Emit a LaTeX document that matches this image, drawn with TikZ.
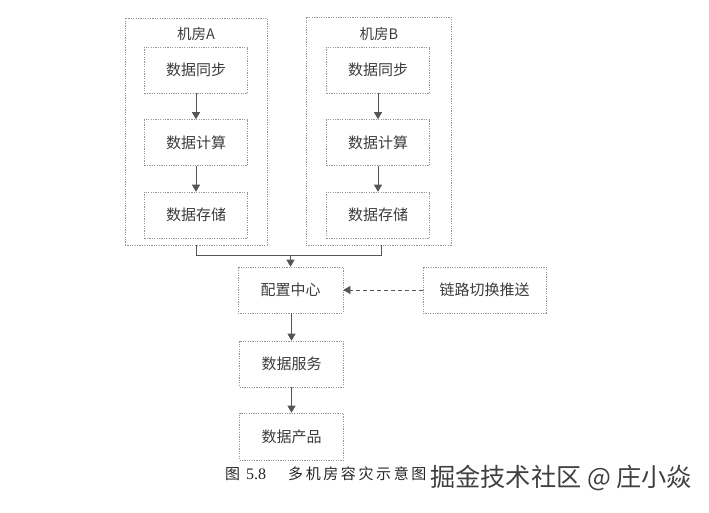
\documentclass[tikz,border=0pt]{standalone}
\usepackage{fontspec}
\setmainfont{Noto Sans CJK SC}
\newfontfamily\serifnum{Liberation Serif}
\usetikzlibrary{arrows.meta}
\definecolor{boxline}{RGB}{150,150,150}
\definecolor{txt}{RGB}{60,60,60}
\definecolor{arr}{RGB}{85,85,85}
\tikzset{
  dotbox/.style={draw=boxline, line width=0.6pt, dash pattern=on 1.2pt off 1.2pt, rectangle, inner sep=0pt, text=txt, font=\fontsize{15}{17}\selectfont},
  inbox/.style={dotbox, minimum width=103pt, minimum height=46pt},
  link/.style={draw=arr, line width=0.6pt, -{Triangle[width=8pt,length=7pt]}},
  dlink/.style={link, dash pattern=on 4pt off 3pt},
}
\begin{document}
\begin{tikzpicture}[x=1pt,y=-1pt]
\useasboundingbox (0,0) rectangle (709,512);
% rooms
\node[dotbox, minimum width=142pt, minimum height=227pt] (roomA) at (196,131.5) {};
\node[dotbox, minimum width=145pt, minimum height=228pt] (roomB) at (378.5,131) {};
\node[text=txt, font=\fontsize{14.5}{16}\selectfont] (titleA) at (196,34) {机房A};
\node[text=txt, font=\fontsize{14.5}{16}\selectfont] (titleB) at (379,34) {机房B};
% room A
\node[inbox] (a1) at (196,70) {数据同步};
\node[inbox] (a2) at (196,142.5) {数据计算};
\node[inbox] (a3) at (196,215) {数据存储};
% room B
\node[inbox] (b1) at (378,70) {数据同步};
\node[inbox] (b2) at (378,142.5) {数据计算};
\node[inbox] (b3) at (378,215) {数据存储};
% lower chain
\node[inbox, minimum width=105pt] (cfg) at (290.5,290) {配置中心};
\node[inbox, minimum width=123pt] (push) at (484.5,290) {链路切换推送};
\node[inbox, minimum width=104pt] (svc) at (291.5,364) {数据服务};
\node[inbox, minimum width=104pt, minimum height=47pt] (prod) at (291.5,436.5) {数据产品};
% arrows
\draw[link] (a1) -- (a2);
\draw[link] (a2) -- (a3);
\draw[link] (b1) -- (b2);
\draw[link] (b2) -- (b3);
\coordinate (j) at (290.5,255);
\draw[draw=arr, line width=0.6pt] (roomA.south) |- (j);
\draw[draw=arr, line width=0.6pt] ([xshift=2.5pt]roomB.south) |- (j);
\draw[link] (j) -- (cfg.north);
\draw[dlink] (push.west) -- (cfg.east);
\draw[link] (cfg.south -| svc.north) -- (svc.north);
\draw[link] (svc) -- (prod);
% caption
\node[anchor=west, text=black!85, font=\fontsize{15}{17}\selectfont, inner sep=0pt] (cap) at (225,474) {图\hspace{6pt}{\serifnum\fontsize{16}{17}\selectfont 5.8}\hspace{22pt}多\hspace{2.6pt}机\hspace{2.6pt}房\hspace{2.6pt}容\hspace{2.6pt}灾\hspace{2.6pt}示\hspace{2.6pt}意\hspace{2.6pt}图};
\node[anchor=west, text=black!75, font=\fontsize{25.2}{27}\selectfont, inner sep=0pt] (wm) at (430,478) {掘金技术社区 @ 庄小焱};
\end{tikzpicture}
\end{document}
